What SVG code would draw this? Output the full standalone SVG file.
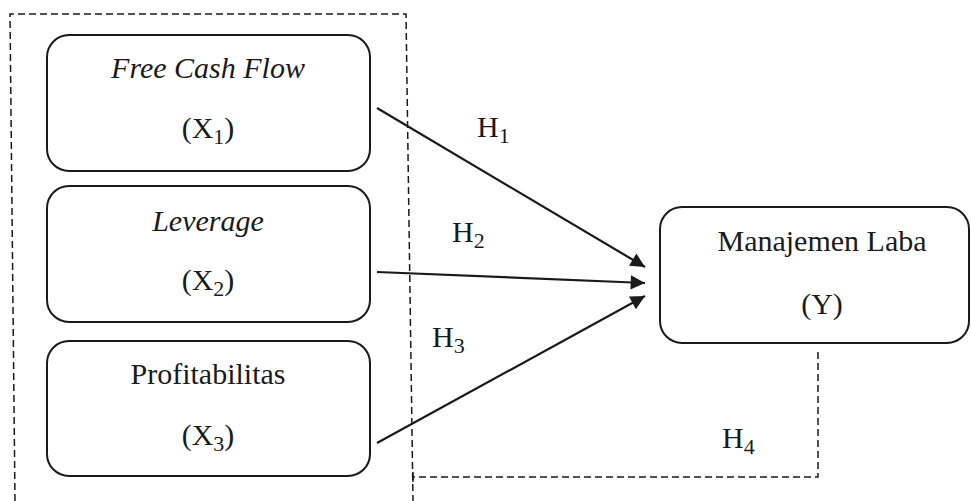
<svg xmlns="http://www.w3.org/2000/svg" width="971" height="501" viewBox="0 0 971 501">
<defs>
<style>
.box{fill:#fff;stroke:#1a1a1a;stroke-width:2}
.t{font-family:"Liberation Serif","Times New Roman",Tinos,"DejaVu Serif",serif;font-size:30px;fill:#1a1a1a;text-anchor:middle}
.i{font-style:italic}
.m{font-family:"Liberation Serif","Times New Roman",Tinos,"DejaVu Serif",serif;font-size:30px;fill:#1a1a1a}
.dash{fill:none;stroke:#1a1a1a;stroke-width:1.5;stroke-dasharray:7 4}
.arr{fill:none;stroke:#1a1a1a;stroke-width:2.2;marker-end:url(#ah)}
</style>
<marker id="ah" viewBox="0 0 10 10" refX="10" refY="5" markerWidth="8" markerHeight="6.5" markerUnits="strokeWidth" orient="auto">
<path d="M0,0 L10,5 L0,10 z" fill="#1a1a1a"/>
</marker>
</defs>
<rect width="971" height="501" fill="#fff"/>
<g id="group-frame">
<path class="dash" d="M15,501 L10,14 L406,14 L413,501"/>
</g>
<g id="node-x1">
<rect class="box" x="47" y="35" width="323" height="136" rx="22"/>
<text class="t i" x="208" y="78">Free Cash Flow</text>
<text class="t" x="208" y="138">(X<tspan font-size="22" dy="6">1</tspan><tspan dy="-6">)</tspan></text>
</g>
<g id="node-x2">
<rect class="box" x="47" y="186" width="323" height="136" rx="22"/>
<text class="t i" x="208" y="231">Leverage</text>
<text class="t" x="208" y="290">(X<tspan font-size="22" dy="6">2</tspan><tspan dy="-6">)</tspan></text>
</g>
<g id="node-x3">
<rect class="box" x="47" y="341" width="323" height="135" rx="22"/>
<text class="t" x="208" y="384">Profitabilitas</text>
<text class="t" x="208" y="445">(X<tspan font-size="22" dy="6">3</tspan><tspan dy="-6">)</tspan></text>
</g>
<g id="node-y">
<rect class="box" x="660" y="207" width="309" height="136" rx="22"/>
<text class="t" x="822" y="251">Manajemen Laba</text>
<text class="t" x="822" y="314">(Y)</text>
</g>
<g id="connectors">
<line class="arr" x1="377" y1="108" x2="645" y2="267"/>
<line class="arr" x1="377" y1="272" x2="645" y2="283"/>
<line class="arr" x1="377" y1="443" x2="645" y2="296"/>
<path class="dash" d="M818,352 L818,477 L413,477"/>
<path d="M413,472 L413,482" stroke="#1a1a1a" stroke-width="1.5"/>
<text class="m" x="477" y="137">H<tspan font-size="22" dy="6">1</tspan></text>
<text class="m" x="452" y="242">H<tspan font-size="22" dy="6">2</tspan></text>
<text class="m" x="432" y="347">H<tspan font-size="22" dy="6">3</tspan></text>
<text class="m" x="722" y="448">H<tspan font-size="22" dy="6">4</tspan></text>
</g>
</svg>
